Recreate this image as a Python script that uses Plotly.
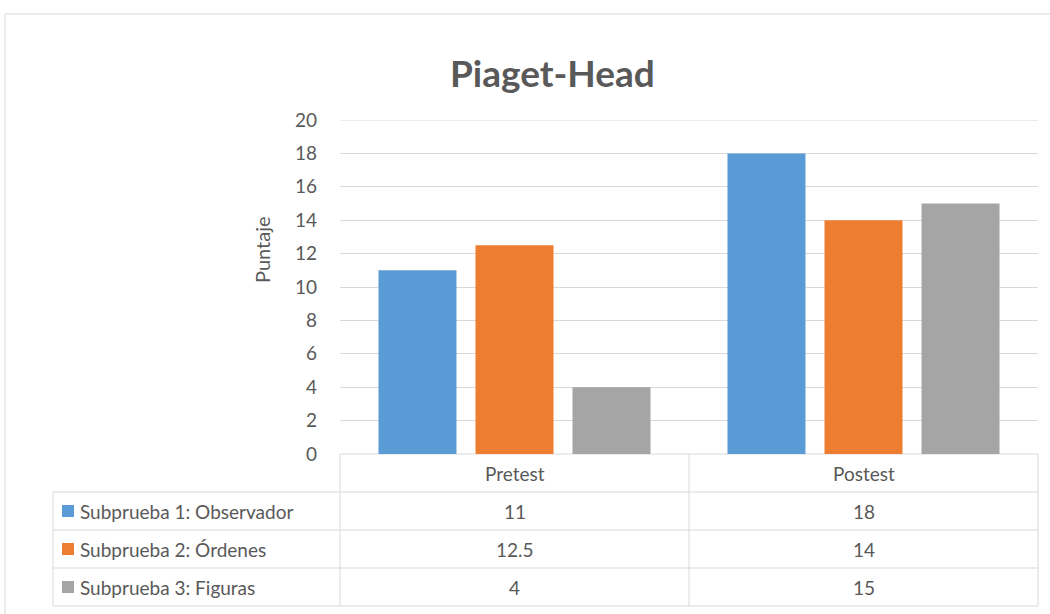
import plotly.graph_objects as go

# Data
categories = ["Pretest", "Postest"]
series_names = ["Subprueba 1: Observador", "Subprueba 2: Órdenes", "Subprueba 3: Figuras"]
observador = [11, 18]
ordenes = [12.5, 14]
figuras = [4, 15]
y_tick_values = [0, 2, 4, 6, 8, 10, 12, 14, 16, 18, 20]

series_values = [observador, ordenes, figuras]
colors = ["#5B9BD5", "#ED7D31", "#A5A5A5"]

W, H = 1050, 614
PL, PR, PT, PB = 340, 1038, 120, 454  # plot area in pixels


def px(x):
    return (x - PL) / (PR - PL)


def py(y):
    return (PB - y) / (PB - PT)


FONT = "Lato, Carlito, Calibri, sans-serif"
TXT = "#595959"
GRID = "#D9D9D9"
TABLE_SIZE = 19

fig = go.Figure()
for name, vals, col in zip(series_names, series_values, colors):
    fig.add_trace(go.Bar(
        x=categories, y=vals, name=name,
        marker=dict(color=col, line=dict(width=0)),
        hoverinfo="x+y+name",
    ))

shapes = []


def hline(x0, x1, y):
    shapes.append(dict(type="line", xref="paper", yref="paper",
                       x0=px(x0), x1=px(x1), y0=py(y), y1=py(y),
                       line=dict(color=GRID, width=1), layer="below"))


def vline(x, y0, y1):
    shapes.append(dict(type="line", xref="paper", yref="paper",
                       x0=px(x), x1=px(x), y0=py(y0), y1=py(y1),
                       line=dict(color=GRID, width=1), layer="below"))


# Outer chart border
hline(5, 1050, 14)
vline(5, 14, 614)

# Top gridline at the axis maximum
shapes.append(dict(type="line", xref="paper", yref="y", x0=0, x1=1,
                   y0=y_tick_values[-1], y1=y_tick_values[-1],
                   line=dict(color=GRID, width=1), layer="below"))

# Data table grid
row_edges = [454, 492, 530, 568, 606]
hline(PL, PR, row_edges[0])
for y in row_edges[1:]:
    hline(53, PR, y)
vline(53, 492, 606)
for x in [PL, (PL + PR) / 2, PR]:
    vline(x, 454, 606)

annotations = []
col_centers = [PL + (PR - PL) * 0.25, PL + (PR - PL) * 0.75]

# Header row with category names
for cx, cat in zip(col_centers, categories):
    annotations.append(dict(xref="paper", yref="paper", x=px(cx), y=py(473),
                            text=cat, showarrow=False,
                            font=dict(family=FONT, size=TABLE_SIZE, color=TXT),
                            xanchor="center", yanchor="middle"))

# Series rows: legend key, name and values
for i, (name, vals, col) in enumerate(zip(series_names, series_values, colors)):
    cy = (row_edges[i + 1] + row_edges[i + 2]) / 2
    shapes.append(dict(type="rect", xref="paper", yref="paper",
                       x0=px(62), x1=px(74), y0=py(cy - 6), y1=py(cy + 6),
                       fillcolor=col, line=dict(width=0)))
    annotations.append(dict(xref="paper", yref="paper", x=px(78), y=py(cy),
                            text=name, showarrow=False,
                            font=dict(family=FONT, size=TABLE_SIZE, color=TXT),
                            xanchor="left", yanchor="middle"))
    for cx, v in zip(col_centers, vals):
        annotations.append(dict(xref="paper", yref="paper", x=px(cx), y=py(cy),
                                text=f"{v:g}", showarrow=False,
                                font=dict(family=FONT, size=TABLE_SIZE, color=TXT),
                                xanchor="center", yanchor="middle"))

# Title and axis title
annotations.append(dict(xref="paper", yref="paper", x=px(552), y=py(72),
                        text="<b>Piaget-Head</b>", showarrow=False,
                        font=dict(family=FONT, size=37, color=TXT),
                        xanchor="center", yanchor="middle"))
annotations.append(dict(xref="paper", yref="paper", x=px(262), y=py(250),
                        text="Puntaje", showarrow=False, textangle=-90,
                        font=dict(family=FONT, size=20, color=TXT),
                        xanchor="center", yanchor="middle"))

fig.update_layout(
    width=W, height=H,
    margin=dict(l=PL, r=W - PR, t=PT, b=H - PB),
    paper_bgcolor="white", plot_bgcolor="white",
    barmode="group", bargap=0.166, bargroupgap=0.196,
    showlegend=False,
    shapes=shapes, annotations=annotations,
    font=dict(family=FONT, color=TXT),
)
fig.update_xaxes(showticklabels=False, showgrid=False, zeroline=False,
                 showline=False, ticks="")
fig.update_yaxes(range=[0, 20], tickvals=y_tick_values, showgrid=True,
                 gridcolor=GRID, gridwidth=1, zeroline=False, showline=False,
                 ticks="", ticklabelstandoff=22,
                 tickfont=dict(family=FONT, size=19, color=TXT))

fig.write_html("out.html")
